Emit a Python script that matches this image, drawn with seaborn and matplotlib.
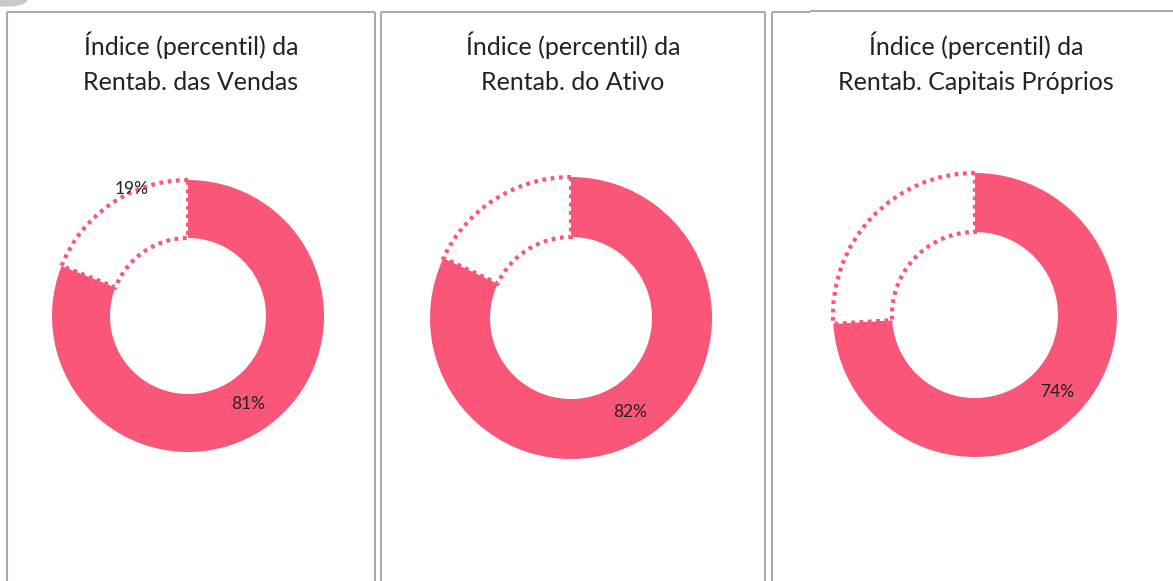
import matplotlib
matplotlib.use("Agg")
import matplotlib.pyplot as plt
import seaborn as sns
from matplotlib.lines import Line2D
from matplotlib.patches import Polygon
import numpy as np

# ---- data ----
titles_line1 = ["Índice (percentil) da", "Índice (percentil) da", "Índice (percentil) da"]
titles_line2 = ["Rentab. das Vendas", "Rentab. do Ativo", "Rentab. Capitais Próprios"]
values_pct = [81, 82, 74]
show_rest_label = [True, False, False]

sns.set_theme(style="white")
plt.rcParams['font.family'] = ['Lato', 'DejaVu Sans']

W, H = 1173, 581
fig = plt.figure(figsize=(W / 100, H / 100), dpi=100)
ax = fig.add_axes([0, 0, 1, 1])

pink = "#F95678"
border = "#ababab"
text_col = "#222222"

# layout (pixels, y from top)
centers = [(188, 316), (571, 318), (975, 315)]
radii = [136, 141, 142]
inner = [78, 81, 83]
title_x = [191, 573, 976]

def Y(y):
    return H - y

for i in range(3):
    cx, cyp = centers[i]
    r, rin = radii[i], inner[i]
    vals = [values_pct[i], 100 - values_pct[i]]
    wedges, texts, autos = ax.pie(
        vals, center=(cx, Y(cyp)), radius=r, startangle=90, counterclock=False,
        colors=[pink, "white"],
        wedgeprops=dict(width=r - rin, linewidth=0),
        autopct=lambda p: f"{p:.0f}%", pctdistance=(r + rin) / 2 / r,
        textprops=dict(fontsize=12.5, color=text_col),
    )
    w2 = wedges[1]
    w2.set_edgecolor(pink)
    w2.set_linewidth(3.0)
    w2.set_linestyle((0, (0.9, 1.1)))
    w2.set_zorder(3)
    wedges[0].set_zorder(2)
    for t in autos:
        t.set_zorder(5)
    if show_rest_label[i]:
        a = np.deg2rad(90 + abs(w2.theta2 - w2.theta1) * 0.35)
        autos[1].set_position((cx + 1.02 * r * np.cos(a), Y(cyp) + 1.02 * r * np.sin(a)))
    else:
        autos[1].set_visible(False)

    ax.text(title_x[i], Y(55), titles_line1[i], ha="center", va="baseline",
            fontsize=18, color=text_col)
    ax.text(title_x[i], Y(90), titles_line2[i], ha="center", va="baseline",
            fontsize=18, color=text_col)

# panel borders
lw = 1.5
segs = [
    ((7, 12), (375, 12)),
    ((7, 12), (7, 581)),
    ((375, 12), (375, 581)),
    ((381, 12), (765, 12)),
    ((381, 12), (381, 581)),
    ((765, 12), (765, 581)),
    ((772, 12), (810, 12)),
    ((772, 12), (772, 581)),
    ((810, 10.5), (1173, 10.5)),
]
for (x0, y0), (x1, y1) in segs:
    ax.add_line(Line2D([x0, x1], [Y(y0), Y(y1)], color=border, lw=lw, zorder=1,
                       solid_capstyle="butt"))

# small page-curl at top-left
ax.add_patch(Polygon([(0, Y(0)), (28, Y(0)), (24, Y(4)), (14, Y(6.5)), (0, Y(6.5))],
                     closed=True, facecolor="#c9c9c9", edgecolor="none", zorder=1))

ax.set_xlim(0, W)
ax.set_ylim(0, H)
ax.set_aspect("auto")
ax.axis("off")

fig.savefig("out.png", dpi=100, facecolor="white")
